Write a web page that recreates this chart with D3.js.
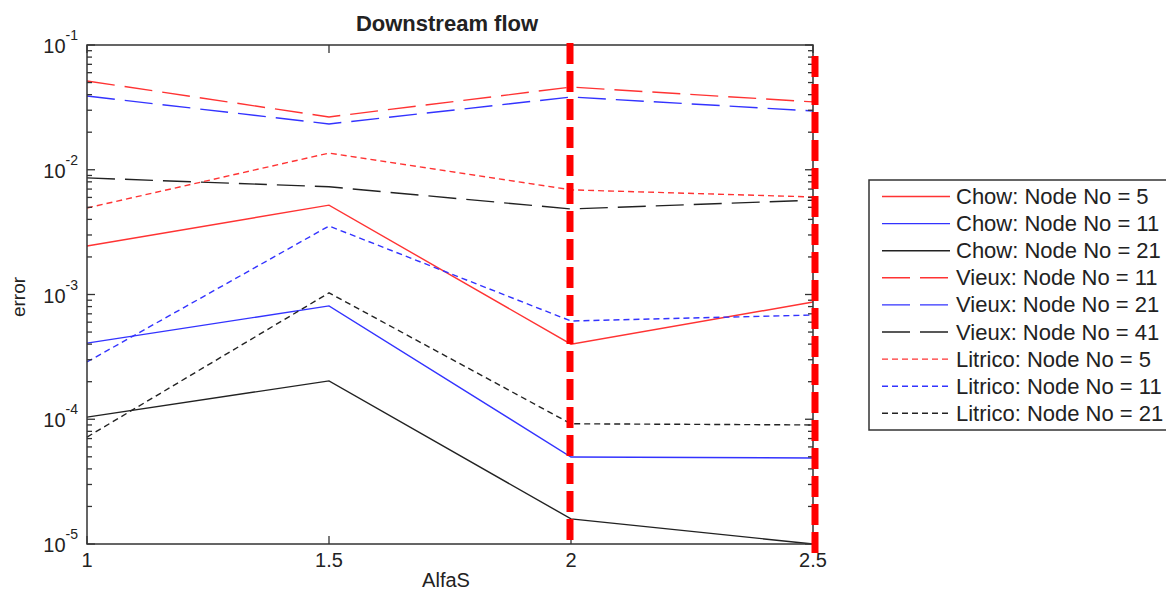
<!DOCTYPE html>
<html><head><meta charset="utf-8">
<script src="https://cdn.jsdelivr.net/npm/d3@7"></script>
<style>body{margin:0;background:#fff}svg{display:block}text{font-family:"Liberation Sans",Arial,sans-serif;fill:#222}</style>
</head><body><svg id="c" width="1166" height="592"></svg>
<script>
const xValues = [1, 1.5, 2, 2.5];
const xTickLabels = ["1", "1.5", "2", "2.5"];
const yTickExponents = [-1, -2, -3, -4, -5];
const seriesNames = ["Chow: Node No = 5","Chow: Node No = 11","Chow: Node No = 21",
  "Vieux: Node No = 11","Vieux: Node No = 21","Vieux: Node No = 41",
  "Litrico: Node No = 5","Litrico: Node No = 11","Litrico: Node No = 21"];
const chow5   = [2.45e-3, 5.2e-3, 4.0e-4, 8.7e-4];
const chow11  = [4.08e-4, 8.1e-4, 4.98e-5, 4.89e-5];
const chow21  = [1.04e-4, 2.03e-4, 1.59e-5, 1.0e-5];
const vieux11 = [5.15e-2, 2.65e-2, 4.6e-2, 3.5e-2];
const vieux21 = [3.9e-2, 2.33e-2, 3.83e-2, 2.96e-2];
const vieux41 = [8.6e-3, 7.3e-3, 4.85e-3, 5.7e-3];
const litrico5  = [4.94e-3, 1.36e-2, 6.9e-3, 6.05e-3];
const litrico11 = [2.88e-4, 3.54e-3, 6.13e-4, 6.85e-4];
const litrico21 = [7.2e-5, 1.03e-3, 9.2e-5, 9.0e-5];
const markerLines = [2, 2.5];
const titleText = "Downstream flow";
const xLabel = "AlfaS";
const yLabel = "error";

const RED = "#ff3333", BLUE = "#3333ff", BLACK = "#222";
const seriesData = [chow5, chow11, chow21, vieux11, vieux21, vieux41, litrico5, litrico11, litrico21];
const colors = [RED, BLUE, BLACK, RED, BLUE, BLACK, RED, BLUE, BLACK];
const dashes = [null, null, null, "28,10", "28,10", "28,10", "6,4", "6,4", "6,4"];

const svg = d3.select("#c");
const L = 87, R = 813, T = 45, B = 544;
const x = d3.scaleLinear().domain([1, 2.5]).range([L, R]);
const y = d3.scaleLog().domain([1e-5, 1e-1]).range([B, T]);

// series
const line = d3.line().x((d, i) => x(xValues[i])).y(d => y(d));
seriesData.forEach((s, k) => {
  svg.append("path").attr("d", line(s)).attr("fill", "none")
    .attr("stroke", colors[k]).attr("stroke-width", 1.4)
    .attr("stroke-dasharray", dashes[k]);
});

// frame
const axisColor = "#333";
svg.append("rect").attr("x", L).attr("y", T).attr("width", R - L).attr("height", B - T)
  .attr("fill", "none").attr("stroke", axisColor).attr("stroke-width", 1.5);

// ticks
const minor = [];
for (let e = -5; e < -1; e++) for (let m = 2; m <= 9; m++) minor.push(m * Math.pow(10, e));
const major = yTickExponents.map(e => Math.pow(10, e));
const tk = svg.append("g").attr("stroke", axisColor).attr("stroke-width", 1.3);
minor.forEach(v => {
  tk.append("line").attr("x1", L).attr("x2", L + 5).attr("y1", y(v)).attr("y2", y(v));
  tk.append("line").attr("x1", R).attr("x2", R - 5).attr("y1", y(v)).attr("y2", y(v));
});
major.forEach(v => {
  tk.append("line").attr("x1", L).attr("x2", L + 8).attr("y1", y(v)).attr("y2", y(v));
  tk.append("line").attr("x1", R).attr("x2", R - 8).attr("y1", y(v)).attr("y2", y(v));
});
xValues.forEach(v => {
  tk.append("line").attr("x1", x(v)).attr("x2", x(v)).attr("y1", B).attr("y2", B - 8);
  tk.append("line").attr("x1", x(v)).attr("x2", x(v)).attr("y1", T).attr("y2", T + 8);
});

// y tick labels
yTickExponents.forEach(e => {
  const t = svg.append("text").attr("x", 78).attr("y", y(Math.pow(10, e)) + 8)
    .attr("text-anchor", "end").style("font-size", "20px");
  t.append("tspan").text("10");
  t.append("tspan").attr("dy", -13).style("font-size", "14px").text(String(e));
});
// x tick labels
xValues.forEach((v, i) => {
  svg.append("text").attr("x", x(v)).attr("y", B + 23).attr("text-anchor", "middle")
    .style("font-size", "20px").text(xTickLabels[i]);
});

// labels
svg.append("text").attr("x", (L + R) / 2 - 3).attr("y", 31).attr("text-anchor", "middle")
  .style("font-size", "22px").style("font-weight", "bold").text(titleText);
svg.append("text").attr("x", (L + R) / 2 - 4).attr("y", 587).attr("text-anchor", "middle")
  .style("font-size", "20px").text(xLabel);
svg.append("text").attr("transform", "translate(25,297) rotate(-90)").attr("text-anchor", "middle")
  .style("font-size", "19px").text(yLabel);

// red marker lines
markerLines.forEach((v, i) => {
  svg.append("line").attr("x1", x(v) + (i ? 2 : -1)).attr("x2", x(v) + (i ? 2 : -1))
    .attr("y1", i ? 56 : 43).attr("y2", i ? 556 : 542)
    .attr("stroke", "#ff0000").attr("stroke-width", 7).attr("stroke-dasharray", "21,7");
});

// legend
const lg = svg.append("g");
lg.append("rect").attr("x", 869).attr("y", 180).attr("width", 320).attr("height", 250)
  .attr("fill", "#fff").attr("stroke", "#333").attr("stroke-width", 1.5);
seriesNames.forEach((n, k) => {
  const cy = 196.5 + k * 27.1;
  lg.append("line").attr("x1", 882).attr("x2", 950).attr("y1", cy).attr("y2", cy)
    .attr("stroke", colors[k]).attr("stroke-width", 1.4).attr("stroke-dasharray", dashes[k]);
  lg.append("text").attr("x", 956).attr("y", cy + 7.5).style("font-size", "22px").text(n);
});
</script></body></html>
